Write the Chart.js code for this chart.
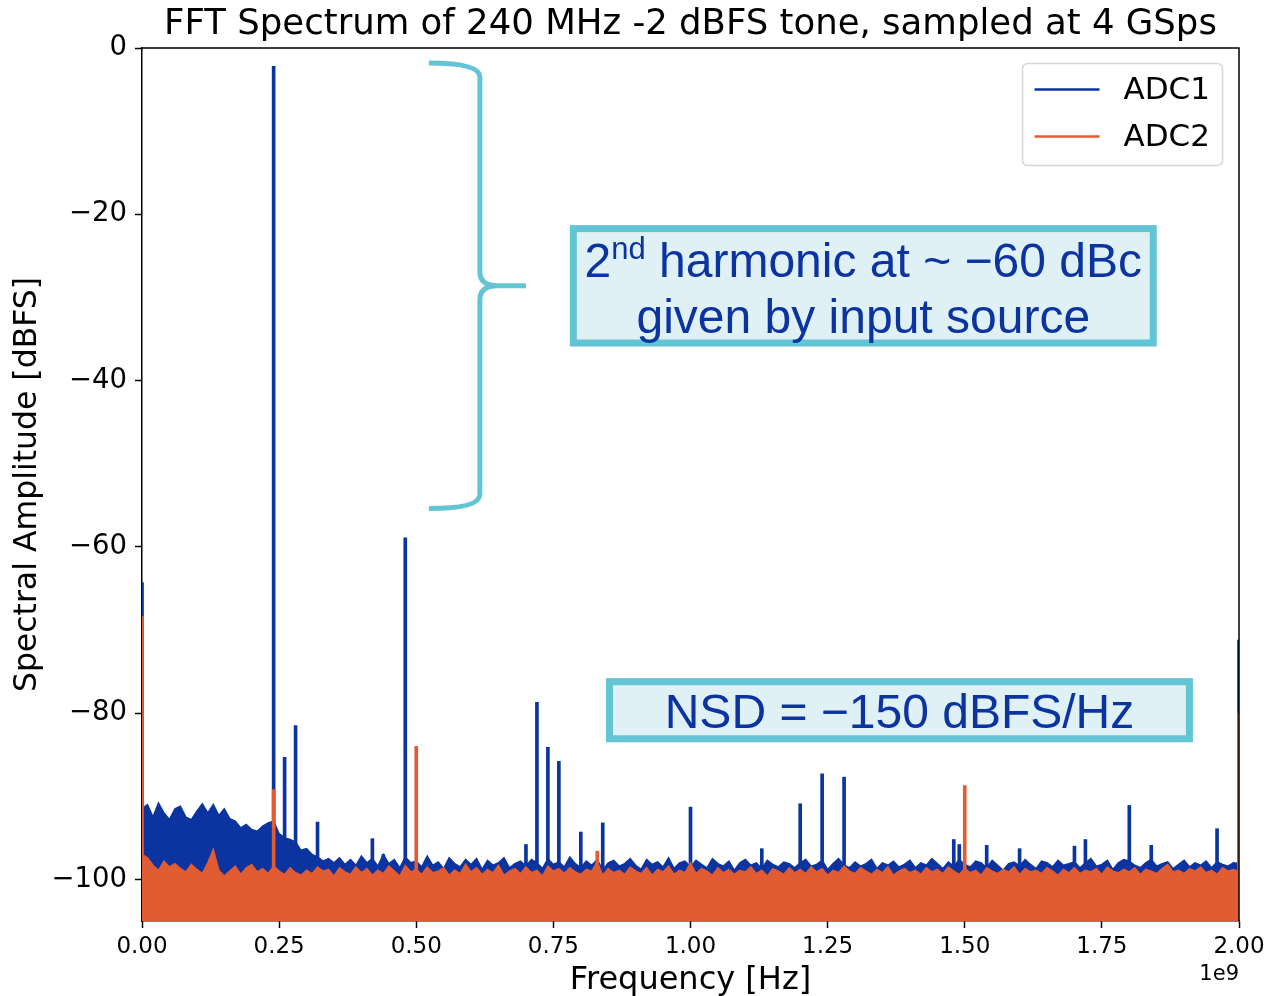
<!DOCTYPE html>
<html>
<head>
<meta charset="utf-8">
<script src="https://cdn.jsdelivr.net/npm/chart.js@4.4.1/dist/chart.umd.min.js"></script>
<style>
  html, body { margin: 0; padding: 0; background: #fff; }
  #wrap { width: 1266px; height: 996px; }
</style>
</head>
<body>
<div id="wrap"><canvas id="fft" width="1266" height="996"></canvas></div>
<script>
// FFT spectrum, two ADCs. Noise envelopes, one value per 10 MHz bin (0 .. 2 GHz).
const NOISE_STEP_HZ = 10e6;

const ADC1_NOISE = [
  -91.5, -91.0, -92.5, -90.8, -92.0, -92.8, -91.5, -91.2, -92.5, -92.8,
  -91.8, -90.9, -92.0, -91.0, -92.3, -91.5, -92.7, -93.0, -93.8, -93.4,
  -94.0, -94.2, -93.6, -93.2, -93.0, -94.5, -95.0, -95.2, -95.5, -96.5,
  -96.3, -97.0, -97.3, -97.8, -97.5, -98.0, -97.4, -98.2, -97.6, -98.3,
  -97.2, -98.0, -97.5, -98.4, -97.0, -98.1, -97.6, -98.6, -97.3, -98.0,
  -97.8, -98.5, -97.2, -98.3, -97.9, -98.7, -97.4, -98.1, -98.5, -97.6,
  -98.2, -97.5, -98.8, -97.7, -98.3, -98.0, -97.4, -98.6, -98.1, -97.8,
  -98.4, -97.6, -98.0, -98.7, -97.5, -98.2, -97.9, -98.5, -97.3, -98.1,
  -98.6, -97.8, -98.3, -97.6, -98.9, -98.0, -97.7, -98.4, -98.1, -97.5,
  -98.3, -98.8, -97.6, -98.2, -97.9, -98.5, -97.4, -98.7, -98.0, -97.8,
  -98.5, -97.7, -98.2, -98.6, -97.5, -98.1, -98.4, -97.8, -98.9, -98.0,
  -97.6, -98.3, -98.0, -98.7, -97.7, -98.2, -98.5, -97.9, -98.1, -98.6,
  -98.0, -97.6, -98.4, -98.2, -97.7, -98.8, -98.1, -97.5, -98.3, -98.6,
  -97.9, -98.4, -98.1, -97.6, -98.7, -98.0, -98.3, -97.8, -98.5, -98.2,
  -97.7, -98.6, -98.0, -98.3, -97.5, -98.1, -98.7, -97.9, -98.4, -97.6,
  -98.2, -98.5, -97.8, -98.0, -98.6, -97.7, -98.3, -98.9, -98.1, -97.9,
  -98.4, -97.6, -98.2, -98.7, -97.8, -98.0, -98.5, -97.7, -98.3, -98.1,
  -97.9, -98.6, -98.0, -97.5, -98.4, -98.2, -97.7, -98.8, -98.0, -97.6,
  -97.8, -98.3, -98.6, -98.0, -97.6, -98.4, -98.1, -97.9, -98.7, -98.2,
  -97.7, -98.5, -98.0, -98.3, -97.8, -98.6, -97.9, -98.2, -98.4, -98.0,
  -98.1
];

const ADC2_NOISE = [
  -97.0, -97.4, -98.3, -98.9, -97.8, -98.5, -98.1, -98.7, -99.1, -98.2,
  -98.8, -99.3, -98.0, -96.4, -98.9, -99.6, -99.0, -98.4, -99.4, -98.6,
  -98.2, -99.1, -98.7, -99.3, -98.4, -99.0, -99.4, -98.6, -99.2, -99.5,
  -98.9, -99.3, -98.5, -99.0, -98.8, -99.6, -98.6, -99.1, -99.4, -98.5,
  -99.2, -98.7, -99.5, -98.9, -99.3, -98.4, -99.0, -99.6, -98.3, -99.1,
  -98.8, -99.4, -98.5, -99.2, -99.0, -98.6, -99.5, -98.9, -99.3, -98.2,
  -99.1, -98.6, -99.4, -98.8, -99.2, -98.3, -99.5, -99.0, -98.7, -99.3,
  -98.5, -99.2, -98.9, -99.6, -98.4, -99.0, -98.7, -99.3, -98.6, -99.1,
  -99.4, -98.8, -99.0, -97.9, -99.5, -98.7, -99.2, -98.9, -99.4, -98.5,
  -99.0, -99.3, -98.6, -99.5, -98.8, -99.1, -98.4, -99.4, -98.9, -99.2,
  -98.0, -99.3, -98.7, -99.0, -99.5, -98.6, -99.2, -98.8, -99.4, -98.9,
  -99.1, -98.5, -99.3, -98.9, -99.6, -98.7, -99.0, -99.4, -98.6, -99.2,
  -98.8, -99.3, -98.5, -99.1, -98.7, -99.5, -98.9, -99.2, -98.4, -99.0,
  -99.3, -98.6, -99.0, -99.4, -98.8, -99.2, -98.5, -99.5, -99.0, -98.7,
  -99.2, -98.9, -99.4, -98.6, -99.1, -98.8, -99.3, -98.5, -99.0, -99.4,
  -98.7, -99.2, -98.9, -99.5, -98.6, -99.0, -99.3, -98.8, -99.1, -98.5,
  -99.4, -98.7, -99.1, -98.9, -99.3, -98.6, -99.0, -99.5, -98.8, -99.2,
  -98.6, -99.3, -98.9, -99.1, -98.7, -99.4, -98.5, -99.0, -99.2, -98.8,
  -99.1, -98.6, -99.4, -98.8, -99.0, -99.3, -98.7, -98.2, -99.1, -98.9,
  -99.3, -98.7, -99.0, -98.5, -99.2, -98.9, -99.4, -98.6, -99.0, -98.8,
  -99.1
];

// spurs: [frequency in MHz, peak in dBFS]
const ADC1_SPURS = [
  [0, -64.3], [240, -2.2], [260, -85.3], [280, -81.5], [320, -93.1],
  [420, -95.1], [440, -97.0], [480, -58.9], [700, -95.8], [720, -78.7],
  [740, -84.1], [760, -85.8], [800, -94.3], [840, -93.2], [1000, -91.3],
  [1130, -96.3], [1200, -90.9], [1240, -87.3], [1280, -87.7], [1480, -95.2],
  [1490, -95.8], [1540, -95.9], [1600, -96.3], [1700, -96.0], [1720, -95.2],
  [1800, -91.1], [1840, -95.9], [1960, -93.9], [2000, -71.2]
];
const ADC2_SPURS = [
  [0, -68.4], [240, -89.2], [500, -84.0], [830, -96.6], [1500, -88.7], [2000, -80.0]
];

const Y_MIN = -105;
const Y_MAX = 0;
const X_MAX_HZ = 2e9;

const BLUE = '#0b34a0';
const ORANGE = '#e15c32';
const SERIES_NAMES = ['ADC1', 'ADC2'];

const noisePoints = arr => arr.map((v, i) => ({ x: i * NOISE_STEP_HZ, y: v }));
const spurBars = arr => arr.map(([mhz, db]) => ({ x: mhz * 1e6, y: [Y_MIN, db] }));
const minus = v => (v < 0 ? '\u2212' + Math.abs(v) : String(v));

// annotations: brace, boxes and legend drawn on top in matplotlib style
const overlay = {
  id: 'overlay',
  afterDraw(chart) {
    const { ctx, chartArea: a, scales } = chart;
    const px = g => scales.x.getPixelForValue(g * 1e9);
    const py = d => scales.y.getPixelForValue(d);
    ctx.save();

    // top / right spines
    ctx.strokeStyle = '#000';
    ctx.lineWidth = 1.5;
    ctx.beginPath();
    ctx.moveTo(a.left, a.top); ctx.lineTo(a.right, a.top); ctx.lineTo(a.right, a.bottom);
    ctx.stroke();

    // curly brace
    const tipX = px(0.523), spineX = px(0.616), pointX = px(0.70);
    const yTop = py(-1.8), yMid = py(-28.6), yBot = py(-55.4);
    ctx.strokeStyle = '#63c5d3';
    ctx.lineWidth = 5;
    ctx.beginPath();
    ctx.moveTo(tipX, yTop);
    ctx.quadraticCurveTo(spineX, yTop, spineX, yTop + 14);
    ctx.lineTo(spineX, yMid - 14);
    ctx.quadraticCurveTo(spineX, yMid, spineX + 18, yMid);
    ctx.lineTo(pointX, yMid);
    ctx.moveTo(spineX + 18, yMid);
    ctx.quadraticCurveTo(spineX, yMid, spineX, yMid + 14);
    ctx.lineTo(spineX, yBot - 14);
    ctx.quadraticCurveTo(spineX, yBot, tipX, yBot);
    ctx.stroke();

    const box = (x0, y0, x1, y1) => {
      const l = px(x0), t = py(y0), r = px(x1), b = py(y1);
      ctx.fillStyle = '#dff1f5';
      ctx.fillRect(l, t, r - l, b - t);
      ctx.strokeStyle = '#63c5d3';
      ctx.lineWidth = 7;
      ctx.strokeRect(l + 3.5, t + 3.5, r - l - 7, b - t - 7);
      return { l, t, r, b, cx: (l + r) / 2 };
    };

    const bodyFont = "48px 'Liberation Sans', Arial, sans-serif";
    const supFont = "31px 'Liberation Sans', Arial, sans-serif";
    ctx.textBaseline = 'alphabetic';

    // box 1 : 2nd harmonic note
    const b1 = box(0.780, -21.3, 1.850, -35.9);
    ctx.fillStyle = '#0b34a0';
    const p1 = '2', p2 = 'nd', p3 = ' harmonic at ~ \u221260 dBc';
    ctx.font = bodyFont;
    const w1 = ctx.measureText(p1).width, w3 = ctx.measureText(p3).width;
    ctx.font = supFont;
    const w2 = ctx.measureText(p2).width;
    let x = b1.cx - (w1 + w2 + w3) / 2;
    const base1 = b1.t + 52;
    ctx.textAlign = 'left';
    ctx.font = bodyFont; ctx.fillText(p1, x, base1); x += w1;
    ctx.font = supFont; ctx.fillText(p2, x, base1 - 18); x += w2;
    ctx.font = bodyFont; ctx.fillText(p3, x, base1);
    ctx.textAlign = 'center';
    ctx.fillText('given by input source', b1.cx, b1.t + 108);

    // box 2 : noise spectral density
    const b2 = box(0.846, -75.8, 1.916, -83.5);
    ctx.fillStyle = '#0b34a0';
    ctx.font = bodyFont;
    ctx.textAlign = 'center';
    ctx.fillText('NSD = \u2212150 dBFS/Hz', b2.cx, b2.t + 50);

    // legend
    const lx = 1022.5, ly = 63.5, lw = 200, lh = 102;
    ctx.fillStyle = 'rgba(255,255,255,0.85)';
    ctx.strokeStyle = '#d6d6d6';
    ctx.lineWidth = 1.5;
    ctx.beginPath();
    ctx.roundRect(lx, ly, lw, lh, 5);
    ctx.fill(); ctx.stroke();
    [BLUE, ORANGE].forEach((c, i) => {
      const yy = ly + 26 + i * 47;
      ctx.strokeStyle = c;
      ctx.lineWidth = 2.5;
      ctx.beginPath(); ctx.moveTo(lx + 12, yy); ctx.lineTo(lx + 77, yy); ctx.stroke();
      ctx.fillStyle = '#000';
      ctx.font = "31px 'DejaVu Sans'";
      ctx.textAlign = 'left';
      ctx.textBaseline = 'middle';
      ctx.fillText(SERIES_NAMES[i], lx + 101, yy + 1);
    });

    // axis offset text
    ctx.fillStyle = '#000';
    ctx.font = "21px 'DejaVu Sans'";
    ctx.textAlign = 'right';
    ctx.textBaseline = 'alphabetic';
    ctx.fillText('1e9', a.right, 980);
    ctx.restore();
  }
};

new Chart(document.getElementById('fft'), {
  type: 'line',
  data: {
    datasets: [
      { label: SERIES_NAMES[0], data: noisePoints(ADC1_NOISE), borderColor: BLUE, backgroundColor: BLUE,
        borderWidth: 1.5, pointRadius: 0, fill: 'start', tension: 0, order: 4 },
      { type: 'bar', label: SERIES_NAMES[0] + ' spurs', data: spurBars(ADC1_SPURS), backgroundColor: BLUE,
        barThickness: 3, grouped: false, borderWidth: 0, order: 3 },
      { label: SERIES_NAMES[1], data: noisePoints(ADC2_NOISE), borderColor: ORANGE, backgroundColor: ORANGE,
        borderWidth: 1.5, pointRadius: 0, fill: 'start', tension: 0, order: 2 },
      { type: 'bar', label: SERIES_NAMES[1] + ' spurs', data: spurBars(ADC2_SPURS), backgroundColor: ORANGE,
        barThickness: 3, grouped: false, borderWidth: 0, order: 1 }
    ]
  },
  options: {
    responsive: false,
    animation: false,
    events: [],
    devicePixelRatio: 1,
    layout: { padding: { left: 0, right: 27, top: 0, bottom: 0 } },
    plugins: {
      legend: { display: false },
      tooltip: { enabled: false },
      title: {
        display: true,
        text: 'FFT Spectrum of 240 MHz -2 dBFS tone, sampled at 4 GSps',
        color: '#000',
        font: { family: "'DejaVu Sans'", size: 35.5, weight: 'normal' },
        padding: { top: 3, bottom: 2.4 },
        fullSize: false
      }
    },
    scales: {
      x: {
        type: 'linear',
        min: 0, max: X_MAX_HZ,
        offset: false,
        // keep the plot edge at 2.00 GHz; the last label may hang into the right margin
        afterFit: s => { s.height = 75; s.paddingRight = 0; },
        ticks: {
          stepSize: 0.25e9,
          color: '#000',
          font: { family: "'DejaVu Sans'", size: 23 },
          padding: 5,
          maxRotation: 0,
          callback: v => (v / 1e9).toFixed(2)
        },
        grid: { offset: false, drawOnChartArea: false, drawTicks: true, tickLength: 7, tickWidth: 1.5, tickColor: '#000' },
        border: { display: true, color: '#000', width: 1.5 },
        title: {
          display: true, text: 'Frequency [Hz]', color: '#000',
          font: { family: "'DejaVu Sans'", size: 32 }, padding: { top: 0, bottom: -4 }
        }
      },
      y: {
        min: Y_MIN, max: Y_MAX,
        afterFit: s => { s.width = 142; },
        ticks: {
          stepSize: 20,
          includeBounds: false,
          color: '#000',
          font: { family: "'DejaVu Sans'", size: 27.5 },
          padding: 8,
          callback: v => minus(v)
        },
        grid: { drawOnChartArea: false, drawTicks: true, tickLength: 7, tickWidth: 1.5, tickColor: '#000' },
        border: { display: true, color: '#000', width: 1.5 },
        title: {
          display: true, text: 'Spectral Amplitude [dBFS]', color: '#000',
          font: { family: "'DejaVu Sans'", size: 31.5 }, padding: { top: 9, bottom: 0 }
        }
      }
    }
  },
  plugins: [overlay]
});
</script>
</body>
</html>
